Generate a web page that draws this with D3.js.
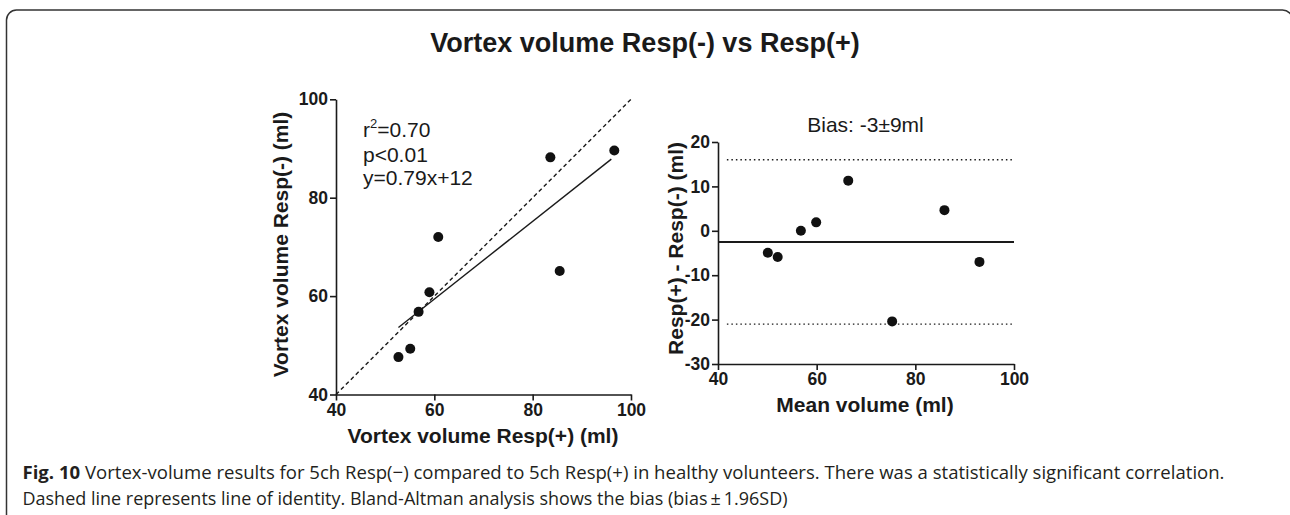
<!DOCTYPE html>
<html>
<head>
<meta charset="utf-8">
<script src="https://cdn.jsdelivr.net/npm/d3@7"></script>
<style>
  body { margin: 0; background: #fff; }
  svg { display: block; }
</style>
</head>
<body>
<svg width="1290" height="515"></svg>
<script>
// scatter: Resp(+) vs Resp(-)
var respPlus  = [52.7, 55.1, 56.8, 59.0, 60.8, 83.6, 85.5, 96.6];
var respMinus = [47.6, 49.3, 56.8, 60.8, 72.0, 88.2, 65.1, 89.6];
var fitSlope = 0.79, fitIntercept = 12;
var scatterTicks = [40, 60, 80, 100];

// Bland-Altman
var meanVolume = [50.1, 52.1, 56.8, 59.9, 66.4, 75.3, 85.9, 93.0];
var volumeDiff = [-4.95, -5.9, 0, 1.9, 11.3, -20.4, 4.65, -7.0];
var bias = -2.5, upperLimit = 16, lowerLimit = -21;
var limitsX = [41.8, 100];
var baXTicks = [40, 60, 80, 100];
var baYTicks = [-30, -20, -10, 0, 10, 20];

var svg = d3.select('svg');
var ink = '#1a1a1a';
var sans = '"Liberation Sans", Arial, sans-serif';

function styleAxis(g) {
  g.select('.domain').attr('stroke', ink).attr('stroke-width', 1.6);
  g.selectAll('.tick line').attr('stroke', ink).attr('stroke-width', 1.6);
  g.selectAll('.tick text')
    .attr('font-family', sans).attr('font-weight', 'bold')
    .attr('font-size', 17.5).attr('fill', ink);
}
var fmt = d => String(d);

// frame
svg.append('rect')
  .attr('x', 6.5).attr('y', 10)
  .attr('width', 1286).attr('height', 600)
  .attr('rx', 10)
  .attr('fill', 'none').attr('stroke', '#333').attr('stroke-width', 1.5);

svg.append('text')
  .attr('x', 645).attr('y', 52)
  .attr('text-anchor', 'middle')
  .attr('font-family', sans).attr('font-weight', 'bold').attr('font-size', 27)
  .attr('fill', ink)
  .text('Vortex volume Resp(-) vs Resp(+)');

// ---- left panel
var x1 = d3.scaleLinear().domain([40, 100]).range([336, 631]);
var y1 = d3.scaleLinear().domain([40, 100]).range([394.5, 99.3]);

svg.append('g')
  .attr('transform', 'translate(0,' + y1(40) + ')')
  .call(d3.axisBottom(x1).tickValues(scatterTicks).tickFormat(fmt).tickSize(6).tickPadding(3).tickSizeOuter(0))
  .call(styleAxis);
svg.append('g')
  .attr('transform', 'translate(' + x1(40) + ',0)')
  .call(d3.axisLeft(y1).tickValues(scatterTicks).tickFormat(fmt).tickSize(6).tickPadding(2).tickSizeOuter(0))
  .call(styleAxis);

// identity line
svg.append('line')
  .attr('x1', x1(40)).attr('y1', y1(40))
  .attr('x2', x1(100)).attr('y2', y1(100))
  .attr('stroke', ink).attr('stroke-width', 1.4).attr('stroke-dasharray', '4,3');

// regression line
var ext = d3.extent(respPlus);
ext[1] = 96.0;
svg.append('line')
  .attr('x1', x1(ext[0])).attr('y1', y1(fitSlope * ext[0] + fitIntercept))
  .attr('x2', x1(ext[1])).attr('y2', y1(fitSlope * ext[1] + fitIntercept))
  .attr('stroke', ink).attr('stroke-width', 1.4);

svg.append('g').selectAll('circle')
  .data(respPlus)
  .enter().append('circle')
  .attr('cx', d => x1(d))
  .attr('cy', (d, i) => y1(respMinus[i]))
  .attr('r', 5)
  .attr('fill', '#111');

var stats = svg.append('g')
  .attr('font-family', sans).attr('font-size', 21).attr('fill', ink);
var r2 = stats.append('text').attr('x', 363).attr('y', 137);
r2.append('tspan').text('r');
r2.append('tspan').attr('font-size', 13).attr('dy', -9).text('2');
r2.append('tspan').attr('dy', 9).text('=0.70');
stats.append('text').attr('x', 363).attr('y', 161.5).text('p<0.01');
stats.append('text').attr('x', 363).attr('y', 185).text('y=0.79x+12');

svg.append('text')
  .attr('transform', 'translate(288,244.5) rotate(-90)')
  .attr('text-anchor', 'middle')
  .attr('font-family', sans).attr('font-weight', 'bold').attr('font-size', 21)
  .attr('fill', ink)
  .text('Vortex volume Resp(-) (ml)');
svg.append('text')
  .attr('x', 483).attr('y', 443)
  .attr('text-anchor', 'middle')
  .attr('font-family', sans).attr('font-weight', 'bold').attr('font-size', 21)
  .attr('fill', ink)
  .text('Vortex volume Resp(+) (ml)');

// ---- right panel
var x2 = d3.scaleLinear().domain([40, 100]).range([718, 1014]);
var y2 = d3.scaleLinear().domain([-30, 20]).range([364, 142]);

svg.append('g')
  .attr('transform', 'translate(0,' + y2(-30) + ')')
  .call(d3.axisBottom(x2).tickValues(baXTicks).tickFormat(fmt).tickSize(6).tickPadding(3).tickSizeOuter(0))
  .call(styleAxis);
svg.append('g')
  .attr('transform', 'translate(' + x2(40) + ',0)')
  .call(d3.axisLeft(y2).tickValues(baYTicks).tickFormat(fmt).tickSize(6).tickPadding(2).tickSizeOuter(0))
  .call(styleAxis);

svg.append('line')
  .attr('x1', x2(40)).attr('x2', x2(100))
  .attr('y1', y2(bias)).attr('y2', y2(bias))
  .attr('stroke', ink).attr('stroke-width', 2);

svg.append('g').selectAll('line')
  .data([upperLimit, lowerLimit])
  .enter().append('line')
  .attr('x1', x2(limitsX[0])).attr('x2', x2(limitsX[1]))
  .attr('y1', d => y2(d)).attr('y2', d => y2(d))
  .attr('stroke', ink).attr('stroke-width', 1.3).attr('stroke-dasharray', '1.5,3');

svg.append('g').selectAll('circle')
  .data(meanVolume)
  .enter().append('circle')
  .attr('cx', d => x2(d))
  .attr('cy', (d, i) => y2(volumeDiff[i]))
  .attr('r', 5)
  .attr('fill', '#111');

svg.append('text')
  .attr('x', 865.5).attr('y', 131.5)
  .attr('text-anchor', 'middle')
  .attr('font-family', sans).attr('font-size', 21)
  .attr('fill', ink)
  .text('Bias: -3\u00b19ml');

svg.append('text')
  .attr('transform', 'translate(683,248.5) rotate(-90)')
  .attr('text-anchor', 'middle')
  .attr('font-family', sans).attr('font-weight', 'bold').attr('font-size', 21)
  .attr('fill', ink)
  .text('Resp(+) - Resp(-) (ml)');
svg.append('text')
  .attr('x', 865).attr('y', 411.5)
  .attr('text-anchor', 'middle')
  .attr('font-family', sans).attr('font-weight', 'bold').attr('font-size', 21)
  .attr('fill', ink)
  .text('Mean volume (ml)');

// ---- caption
var cap = svg.append('g')
  .attr('font-family', '"Open Sans", "Noto Sans", sans-serif')
  .attr('font-size', 18.5).attr('fill', '#231f20');
var line1 = cap.append('text')
  .attr('x', 22.5).attr('y', 479)
  .attr('textLength', 1202).attr('lengthAdjust', 'spacingAndGlyphs');
line1.append('tspan').attr('font-weight', 'bold').text('Fig. 10');
line1.append('tspan').text(' Vortex-volume results for 5ch Resp(\u2212) compared to 5ch Resp(+) in healthy volunteers. There was a statistically significant correlation.');
cap.append('text')
  .attr('x', 22.5).attr('y', 505)
  .attr('textLength', 765).attr('lengthAdjust', 'spacingAndGlyphs')
  .text('Dashed line represents line of identity. Bland-Altman analysis shows the bias (bias\u2009\u00b1\u20091.96SD)');
</script>
</body>
</html>
